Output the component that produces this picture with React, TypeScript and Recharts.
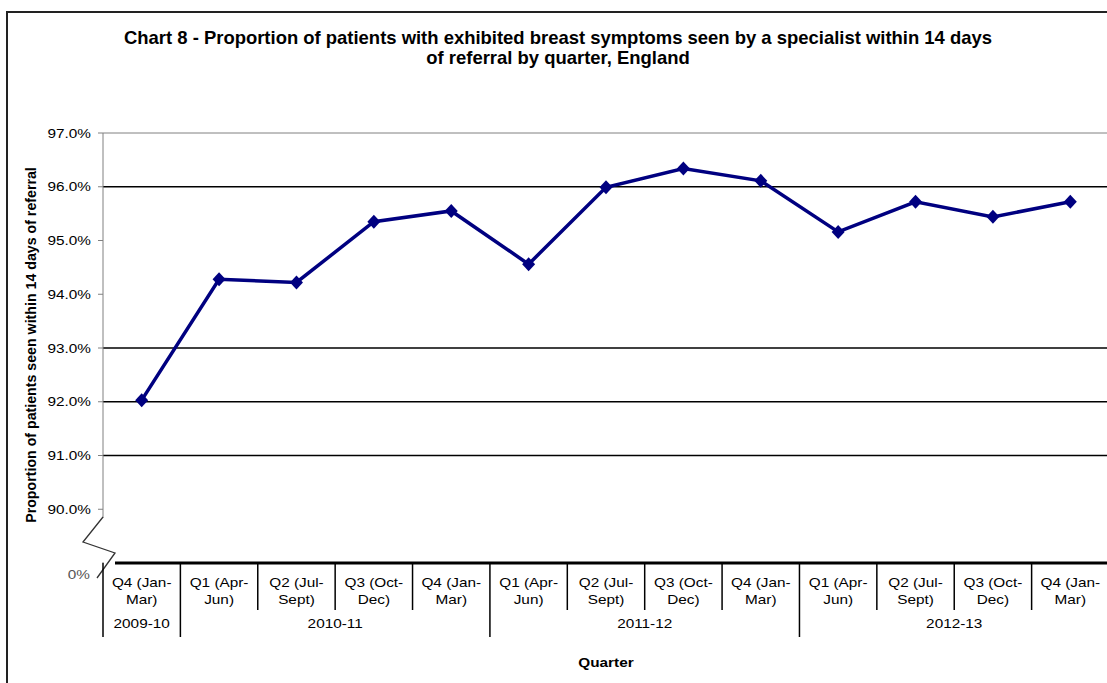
import React from 'react';
import { LineChart, Line, XAxis, YAxis, ReferenceLine } from 'recharts';

// quarters as shown on the axis, with the financial year each belongs to
const quarters = [
  'Q4 (Jan-Mar)',
  'Q1 (Apr-Jun)', 'Q2 (Jul-Sept)', 'Q3 (Oct-Dec)', 'Q4 (Jan-Mar)',
  'Q1 (Apr-Jun)', 'Q2 (Jul-Sept)', 'Q3 (Oct-Dec)', 'Q4 (Jan-Mar)',
  'Q1 (Apr-Jun)', 'Q2 (Jul-Sept)', 'Q3 (Oct-Dec)', 'Q4 (Jan-Mar)',
];
const fiscalYears = [
  '2009-10',
  '2010-11', '2010-11', '2010-11', '2010-11',
  '2011-12', '2011-12', '2011-12', '2011-12',
  '2012-13', '2012-13', '2012-13', '2012-13',
];
const proportionSeen = [92.03, 94.28, 94.22, 95.35, 95.55, 94.56, 95.99, 96.34, 96.11, 95.16, 95.72, 95.44, 95.72];

const yTicks = [89, 90, 91, 92, 93, 94, 95, 96, 97];
const gridValues = [91, 92, 93, 96];
const breakLabel = '0%';

const titleLines = [
  'Chart 8 - Proportion of patients with exhibited breast symptoms  seen by a specialist within 14 days',
  'of referral by quarter, England',
];
const yTitle = 'Proportion of patients seen within 14 days of referral';
const xTitle = 'Quarter';

const data = quarters.map((q, i) => ({ key: `${fiscalYears[i]} ${q}`, value: proportionSeen[i] }));

const CHART_W = 1115;
const CHART_H = 683;
const MARGIN = { top: 133, right: 6, bottom: 0, left: 0 };
const Y_AXIS_W = 103;
const X_AXIS_H = 120;
const BAND = (CHART_W - MARGIN.left - MARGIN.right - Y_AXIS_W) / quarters.length;
const NAVY = '#000080';
const FONT = '"Liberation Sans", Arial, sans-serif';
const STRETCH = 1.18;

const Txt = ({ x, y, anchor = 'middle', size = 13, weight = 'normal', fill = '#000', sx = STRETCH, children }: any) => (
  <text
    transform={`translate(${x},${y}) scale(${sx},1)`}
    textAnchor={anchor}
    fontSize={size}
    fontWeight={weight}
    fill={fill}
    fontFamily={FONT}
  >
    {children}
  </text>
);

const XTick = (props: any) => {
  const { x, y, payload } = props;
  const i = payload.index;
  const q = quarters[i];
  const cut = q.indexOf('-') + 1;
  const left = x - BAND / 2;
  const groupStart = i === 0 || fiscalYears[i] !== fiscalYears[i - 1];
  let groupLen = 0;
  if (groupStart) while (fiscalYears[i + groupLen] === fiscalYears[i]) groupLen++;
  return (
    <g>
      {i === 0 && (
        <>
          {/* axis break between 90% and the origin */}
          <path
            d={`M${left},${y - 46} L${left - 20},${y - 21} L${left + 12},${y - 10} L${left - 6},${y + 15}`}
            fill="none"
            stroke="#333"
            strokeWidth={1.3}
          />
          <line x1={left + 12} x2={left + BAND * quarters.length} y1={y} y2={y} stroke="#000" strokeWidth={3} />
        </>
      )}
      <line x1={left} x2={left} y1={y} y2={y + (groupStart ? 74 : 47)} stroke="#000" strokeWidth={1.5} />
      <Txt x={x} y={y + 24}>{q.slice(0, cut)}</Txt>
      <Txt x={x} y={y + 41}>{q.slice(cut)}</Txt>
      {groupStart && <Txt x={left + (groupLen * BAND) / 2} y={y + 65}>{fiscalYears[i]}</Txt>}
    </g>
  );
};

const YTick = (props: any) => {
  const { x, y, payload } = props;
  const v = payload.value;
  const ax = x + 12;
  if (v === yTicks[0]) {
    return (
      <g>
        <rect x={ax - 2} y={y - 45} width={4} height={44} fill="#fff" />
        <Txt x={ax - 13} y={y + 16} anchor="end" fill="#555">{breakLabel}</Txt>
      </g>
    );
  }
  return (
    <g>
      <line x1={ax - 5} x2={ax} y1={y} y2={y} stroke="#808080" />
      <Txt x={x} y={y + 4.5} anchor="end">{`${v.toFixed(1)}%`}</Txt>
    </g>
  );
};

const Diamond = (props: any) => {
  const { cx, cy, index } = props;
  return (
    <path
      key={index}
      d={`M${cx},${cy - 7} L${cx + 6.5},${cy} L${cx},${cy + 7} L${cx - 6.5},${cy} Z`}
      fill={NAVY}
    />
  );
};

export default function App() {
  return (
    <div style={{ position: 'absolute', left: 0, top: 0, width: 1107, height: 683, overflow: 'hidden', background: '#fff' }}>
      <div
        style={{
          position: 'absolute', left: 6, top: 11, right: -10, bottom: -10,
          borderLeft: '2px solid #222', borderTop: '2px solid #222',
        }}
      />
      <svg width={1107} height={80} style={{ position: 'absolute', left: 0, top: 0 }}>
        {titleLines.map((t, i) => (
          <Txt key={i} x={558} y={44 + i * 20} size={18} weight="bold" sx={1.025}>{t}</Txt>
        ))}
      </svg>
      <div style={{ position: 'absolute', left: 0, top: 0 }}>
        <LineChart width={CHART_W} height={CHART_H} data={data} margin={MARGIN}>
          <YAxis
            type="number"
            domain={[yTicks[0], yTicks[yTicks.length - 1]]}
            ticks={yTicks}
            interval={0}
            width={Y_AXIS_W}
            tick={YTick}
            tickLine={false}
            tickSize={0}
            tickMargin={12}
            axisLine={{ stroke: '#808080' }}
            allowDataOverflow
            label={{
              content: ({ viewBox }: any) => (
                <text
                  transform={`translate(31,${viewBox.y + viewBox.height / 2 - 3}) rotate(-90) scale(1,1.05)`}
                  textAnchor="middle"
                  dominantBaseline="central"
                  fontSize={14.2}
                  fontWeight="bold"
                  fontFamily={FONT}
                  fill="#000"
                >
                  {yTitle}
                </text>
              ),
            }}
          />
          <XAxis
            dataKey="key"
            height={X_AXIS_H}
            interval={0}
            padding={{ left: BAND / 2, right: BAND / 2 }}
            tick={XTick}
            tickLine={false}
            axisLine={false}
            tickSize={0}
            tickMargin={0}
            label={{
              content: ({ viewBox }: any) => (
                <Txt x={viewBox.x + viewBox.width / 2} y={viewBox.y + 104} weight="bold">{xTitle}</Txt>
              ),
            }}
          />
          <ReferenceLine y={yTicks[yTicks.length - 1]} stroke="#808080" strokeWidth={1} />
          {gridValues.map((v) => (
            <ReferenceLine key={v} y={v} stroke="#000" strokeWidth={1.3} />
          ))}
          <Line
            dataKey="value"
            stroke={NAVY}
            strokeWidth={3.5}
            dot={Diamond}
            activeDot={false}
            isAnimationActive={false}
          />
        </LineChart>
      </div>
    </div>
  );
}
